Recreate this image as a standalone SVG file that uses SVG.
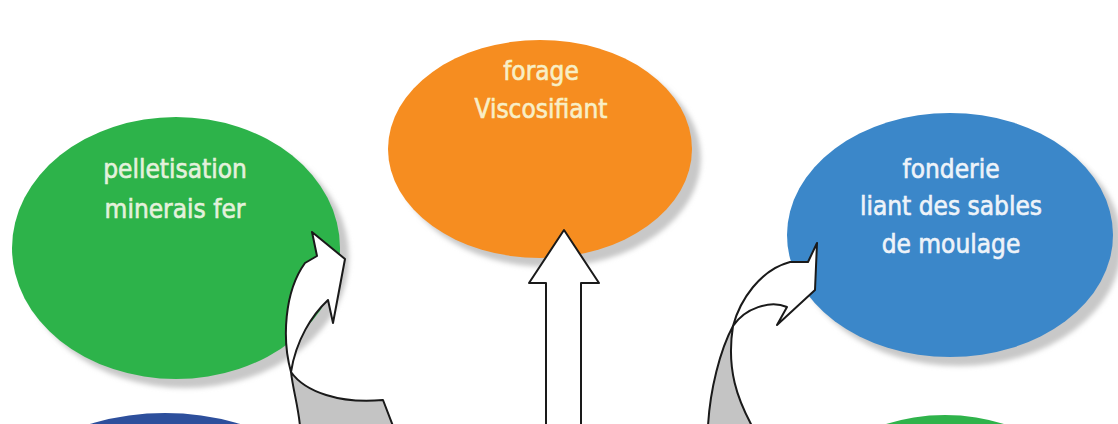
<svg xmlns="http://www.w3.org/2000/svg" width="1118" height="424" viewBox="0 0 1118 424">
<defs>
<filter id="blur" x="-20%" y="-20%" width="140%" height="140%"><feGaussianBlur stdDeviation="2.5"/></filter>
<style>
.shadow{fill:#c8c8c8;filter:url(#blur)}
.lbl{font-family:"DejaVu Sans Condensed","DejaVu Sans",sans-serif;font-stretch:condensed;font-size:26px;text-anchor:middle;stroke-width:0.6px}
.arrow{stroke:#1a1a1a;stroke-width:2;stroke-linejoin:round}
.face{fill:#ffffff}
.under{fill:#c4c4c4}
</style>
</defs>
<rect width="1118" height="424" fill="#ffffff"/>

<g id="node-pelletisation">
<ellipse class="shadow" cx="185" cy="257" rx="164" ry="131"/>
<ellipse cx="176" cy="248" rx="164" ry="131" fill="#2db34a"/>
<text class="lbl" fill="#e4f1dc" stroke="#e4f1dc"><tspan x="175" y="178">pelletisation</tspan><tspan x="175" y="218">minerais fer</tspan></text>
</g>

<g id="node-forage">
<ellipse class="shadow" cx="549" cy="158" rx="152" ry="109"/>
<ellipse cx="540" cy="149" rx="152" ry="109" fill="#f68d20"/>
<text class="lbl" fill="#f8efc6" stroke="#f8efc6"><tspan x="541" y="80">forage</tspan><tspan x="541" y="118">Viscosifiant</tspan></text>
</g>

<g id="node-fonderie">
<ellipse class="shadow" cx="959" cy="244" rx="163" ry="122"/>
<ellipse cx="950" cy="235" rx="163" ry="122" fill="#3b87c9"/>
<text class="lbl" fill="#eef3f9" stroke="#eef3f9"><tspan x="951" y="178">fonderie</tspan><tspan x="951" y="215">liant des sables</tspan><tspan x="951" y="253">de moulage</tspan></text>
</g>

<g id="node-bottom-left">
<ellipse cx="165" cy="540" rx="185" ry="127" fill="#2d4f9c"/>
</g>

<g id="node-bottom-right">
<ellipse cx="945" cy="543" rx="160" ry="128" fill="#2fb34b"/>
</g>

<g id="connectors">
<path class="arrow face" d="M564,230 L599,283 L581,283 L581,426 L546,426 L546,283 L529,283 Z"/>
<path class="arrow under" d="M291,372 C305,392 340,404 383,400 L393,426 L300,426 C298,405 293,390 291,372 Z"/>
<path class="arrow face" d="M312,232 L345,259 L333,323 L328,300 C312,315 296,340 291,372 C282,340 284,292 305,263 L317,256 Z"/>
<path class="arrow under" d="M733,326 C720,350 710,390 708,426 L752,426 C738,400 726,370 733,326 Z"/>
<path class="arrow face" d="M817,243 L815,290 L777,325 L787,307 C770,300 745,308 733,326 C740,300 760,270 790,262 L808,262 Z"/>
</g>
</svg>
